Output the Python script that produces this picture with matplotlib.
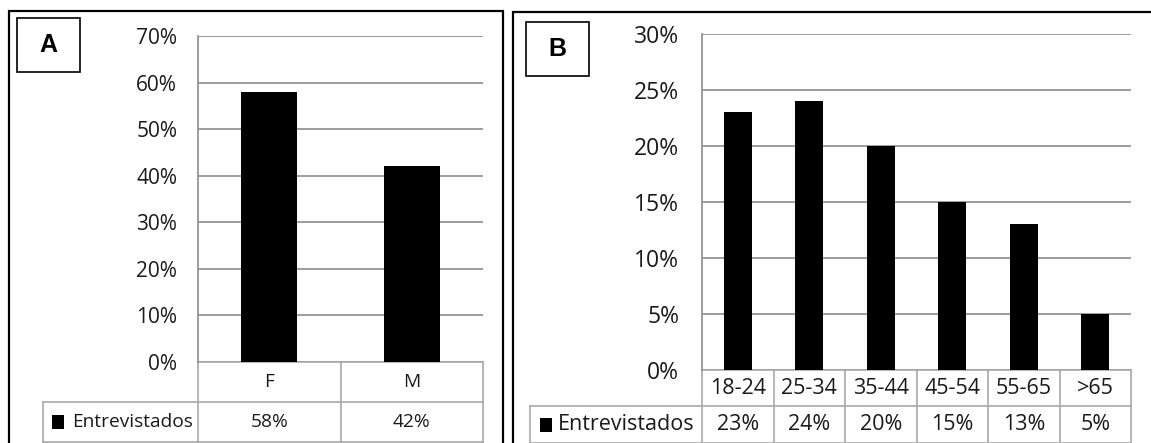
import numpy as np
import matplotlib
matplotlib.use('Agg')
import matplotlib.pyplot as plt
from matplotlib.transforms import blended_transform_factory
from matplotlib.patches import Rectangle

W, H = 1151, 443

# data
sexo = ['F', 'M']
sexo_pct = [58, 42]
edad = ['18-24', '25-34', '35-44', '45-54', '55-65', '>65']
edad_pct = [23, 24, 20, 15, 13, 5]
serie = 'Entrevistados'

GRID = '#8c8c8c'
TLINE = '#a8a8a8'
TXT = '#1a1a1a'
plt.rcParams['font.family'] = ['Open Sans', 'DejaVu Sans']


def fx(px):
    return px / W


def fy(py):
    return 1 - py / H


fig = plt.figure(figsize=(W / 100, H / 100), dpi=100)


def frame(x0, y0, x1, y1, lw):
    r = Rectangle((fx(x0), fy(y1)), fx(x1 - x0), (y1 - y0) / H, fill=False,
                  ec='black', lw=lw, transform=fig.transFigure, clip_on=False)
    fig.add_artist(r)


def panel(letter, cats, vals, ymax, ystep, axbox, rows, head_left, key_x, lbl_x,
          letter_box, pad, fs_tick, fs_tab):
    x0, x1, y0, y1 = axbox
    n = len(cats)
    ax = fig.add_axes([fx(x0), fy(y1), fx(x1 - x0), (y1 - y0) / H])
    x = np.arange(n)
    ax.bar(x, vals, width=0.39, color='black', zorder=3)
    ax.set_xlim(-0.5, n - 0.5)
    ax.set_ylim(0, ymax)
    ticks = np.arange(0, ymax + 1, ystep)
    ax.set_yticks(ticks)
    ax.set_yticklabels(['%d%%' % t for t in ticks])
    ax.tick_params(axis='y', length=0, pad=pad, labelsize=fs_tick, labelcolor=TXT)
    ax.set_xticks([])
    ax.set_axisbelow(True)
    ax.grid(axis='y', color=GRID, lw=1.2)
    for s in ['top', 'right', 'bottom']:
        ax.spines[s].set_visible(False)
    ax.spines['left'].set_color(GRID)
    ax.spines['left'].set_linewidth(1.2)

    # data table under the plot
    bt = blended_transform_factory(ax.transData, fig.transFigure)
    r0, r1, r2 = [fy(r) for r in rows]
    hl = -0.5 + (head_left - x0) / (x1 - x0) * n
    kw = dict(color=TLINE, lw=1.2, transform=bt, clip_on=False)
    ax.plot([-0.5, n - 0.5], [r0, r0], **kw)
    ax.plot([hl, n - 0.5], [r1, r1], **kw)
    ax.plot([hl, n - 0.5], [r2, r2], **kw)
    ax.plot([-0.5, -0.5], [r0, r2], **kw)
    ax.plot([hl, hl], [r1, r2], **kw)
    for i in range(n):
        ax.plot([i + 0.5, i + 0.5], [r0, r2], **kw)
    for i in range(n):
        ax.text(x[i], (r0 + r1) / 2, cats[i], transform=bt, ha='center',
                va='center', fontsize=fs_tab, color=TXT)
        ax.text(x[i], (r1 + r2) / 2, '%d%%' % vals[i], transform=bt,
                ha='center', va='center', fontsize=fs_tab, color=TXT)
    ym = (rows[1] + rows[2]) / 2
    key = Rectangle((fx(key_x), fy(ym + 7)), fx(12), 14 / H, fc='black',
                    ec='none', transform=fig.transFigure)
    fig.add_artist(key)
    fig.text(fx(lbl_x), fy(ym), serie, ha='left', va='center', fontsize=fs_tab,
             color=TXT)

    # panel letter
    bx0, by0, bx1, by1 = letter_box
    frame(bx0, by0, bx1, by1, 1.2)
    fig.text(fx((bx0 + bx1) / 2), fy((by0 + by1) / 2), letter, ha='center',
             va='center', fontsize=18, fontweight='bold',
             family='Liberation Sans')
    return ax


# outer frames
frame(8.5, 11, 502.5, 470, 1.6)
frame(512.7, 12, 1175, 470, 1.6)

panel('A', sexo, sexo_pct, 70, 10, (198, 483, 36, 362), (362, 402, 442),
      43, 52, 72, (17, 18, 80, 72), 15, 15, 13.8)
panel('B', edad, edad_pct, 30, 5, (702, 1131, 34, 370), (370, 406, 443),
      530, 540, 558, (526, 22, 589, 76), 16.5, 16.5, 15.5)

fig.savefig('out.png', dpi=100, facecolor='white')
